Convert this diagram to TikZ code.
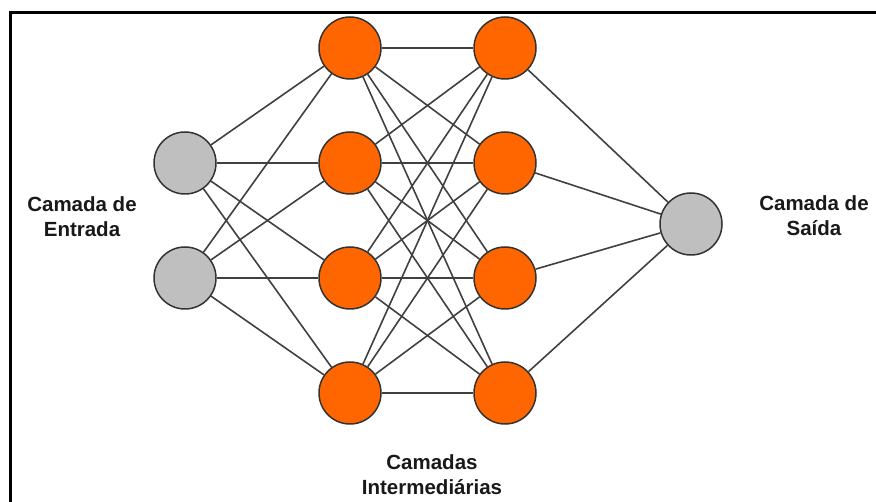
\documentclass[tikz,border=0pt]{standalone}
\usepackage{fontspec}
\setmainfont{Liberation Sans}
\begin{document}
\begin{tikzpicture}[x=1pt,y=-1pt,
  neuron/.style={circle,draw=black!80,line width=1.5pt,minimum size=62pt,inner sep=0pt},
  inneuron/.style={neuron,fill=gray!50},
  hidneuron/.style={neuron,fill=orange1},
  link/.style={draw=black!75,line width=1.6pt},
  layerlabel/.style={font=\fontsize{20.5}{25}\selectfont\bfseries,align=center,text=black!90}]
\definecolor{orange1}{HTML}{FF6600}
\useasboundingbox (0,0) rectangle (876,502);
% frame edges
\draw[line width=3pt] (10,502) -- (10,13) -- (876,13);
% input layer
\node[inneuron] (i1) at (185,163) {};
\node[inneuron] (i2) at (185,278) {};
% first hidden layer
\foreach \k/\y in {1/48,2/163,3/278,4/393}
  \node[hidneuron] (a\k) at (350,\y) {};
% second hidden layer
\foreach \k/\y in {1/48,2/163,3/278,4/393}
  \node[hidneuron] (b\k) at (505,\y) {};
% output layer
\node[inneuron] (o) at (691,224) {};
% connections
\foreach \i in {1,2}
  \foreach \k in {1,...,4}
    \draw[link] (i\i) -- (a\k);
\foreach \j in {1,...,4}
  \foreach \k in {1,...,4}
    \draw[link] (a\j) -- (b\k);
\foreach \k in {1,...,4}
  \draw[link] (b\k) -- (o);
% labels
\node[layerlabel] (lin) at (82,217) {Camada de\\Entrada};
\node[layerlabel] (lout) at (814,216) {Camada de\\Saída};
\node[layerlabel] (lhid) at (432,475) {Camadas\\Intermediárias};
\end{tikzpicture}
\end{document}
